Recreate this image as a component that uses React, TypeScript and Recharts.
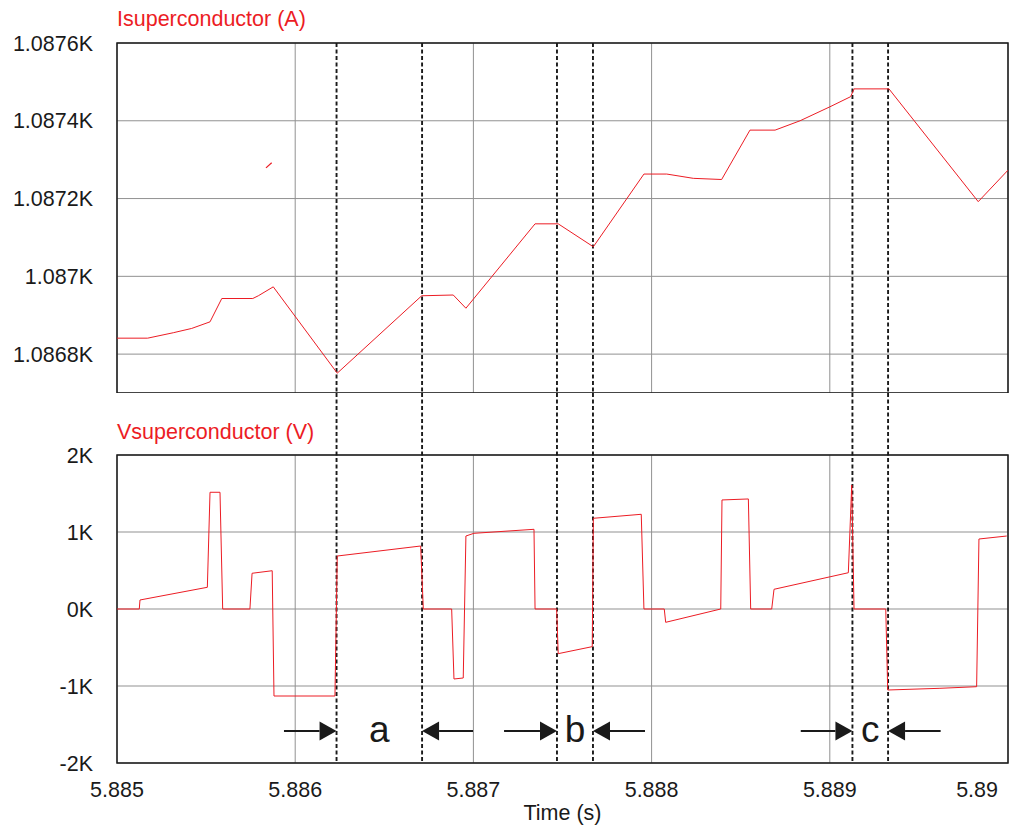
import React from 'react';
import {
  LineChart,
  Line,
  XAxis,
  YAxis,
  CartesianGrid,
  ReferenceLine,
  ReferenceArea,
  ReferenceDot,
} from 'recharts';

const RED = '#ec1c24';
const INK = '#1a1a1a';
const FONT = '"Liberation Sans", Arial, Helvetica, sans-serif';

// shared time axis (s)
const timeTicks = [5.885, 5.886, 5.887, 5.888, 5.889, 5.89];
const timeTickLabels = ['5.885', '5.886', '5.887', '5.888', '5.889', '5.89'];

// superconductor current (A)
const currentTime = [
  5.885, 5.885172, 5.885316, 5.885419, 5.885522, 5.885588, 5.885762, 5.885793, 5.885877,
  5.886236, 5.88671, 5.886887, 5.886958, 5.887346, 5.887476, 5.887673, 5.887957, 5.888085,
  5.888234, 5.888393, 5.888552, 5.888693, 5.888833, 5.889001, 5.889117, 5.889136, 5.889332,
  5.889833, 5.89,
];
const currentAmps = [
  1086.841, 1086.841, 1086.855, 1086.866, 1086.883, 1086.943, 1086.943, 1086.95, 1086.973,
  1086.751, 1086.95, 1086.952, 1086.918, 1087.135, 1087.135, 1087.076, 1087.263, 1087.263,
  1087.252, 1087.249, 1087.376, 1087.376, 1087.4, 1087.436, 1087.462, 1087.482, 1087.482,
  1087.192, 1087.273,
];
// short stray trace segment
const blipTime = [5.885836, 5.885868];
const blipAmps = [1087.279, 1087.292];

const currentTicks = [1086.8, 1087.0, 1087.2, 1087.4, 1087.6];
const currentTickLabels = ['1.0868K', '1.087K', '1.0872K', '1.0874K', '1.0876K'];

// superconductor voltage (V)
const voltageTime = [
  5.885, 5.885125, 5.885129, 5.885507, 5.885522, 5.885578, 5.885593, 5.885746, 5.885758,
  5.885871, 5.885881, 5.886223, 5.886236, 5.886704, 5.886719, 5.886878, 5.886891, 5.886943,
  5.886958, 5.887003, 5.88734, 5.887346, 5.887467, 5.887476, 5.887667, 5.887673, 5.887942,
  5.887957, 5.888071, 5.888079, 5.888388, 5.888395, 5.888543, 5.888556, 5.888674, 5.888687,
  5.889104, 5.889123, 5.889136, 5.889314, 5.889325, 5.889618, 5.889824, 5.889837, 5.889993,
];
const voltageVolts = [
  0, 0, 117, 282, 1516, 1516, 0, 0, 464,
  497, -1130, -1130, 688, 818, 0, 0, -909, -896,
  948, 983, 1035, 0, 0, -580, -489, 1178, 1230,
  0, 0, -173, 0, 1416, 1429, 0, 0, 256,
  471, 1610, 0, 0, -1052, -1030, -1009, 909, 948,
];

const voltageTicks = [-2000, -1000, 0, 1000, 2000];
const voltageTickLabels = ['-2K', '-1K', '0K', '1K', '2K'];

// dotted cursors and the a/b/c interval markers
const cursorTimes = [5.886232, 5.886712, 5.887469, 5.887671, 5.889127, 5.889327];
const intervalLabels = ['a', 'b', 'c'];
const intervalStart = [5.886232, 5.887469, 5.889127];
const intervalEnd = [5.886712, 5.887671, 5.889327];
const arrowTailLeft = [5.885937, 5.887172, 5.888837];
const arrowTailRight = [5.886998, 5.887963, 5.889622];
const ARROW_V = -1585;

const currentData = currentTime.map((t, i) => ({ t, v: currentAmps[i] }));
const blipData = blipTime.map((t, i) => ({ t, v: blipAmps[i] }));
const voltageData = voltageTime.map((t, i) => ({ t, v: voltageVolts[i] }));

const WIDTH = 1013;
const TOP_H = 393;
const BOTTOM_H = 433;
const BOTTOM_GAP = 62;
const I_DOMAIN = [1086.7, 1087.6];
const V_DOMAIN = [-2000, 2000];
const T_DOMAIN = [5.885, 5.89];

const labelFor = (ticks: number[], labels: string[]) => (v: number) => {
  const i = ticks.findIndex((x) => Math.abs(x - v) < 1e-6);
  return i >= 0 ? labels[i] : '';
};

const tickStyle = { fontSize: 21.5, fill: INK, fontFamily: FONT };

const cursorShape = (extendUp: number) => (props: any) => {
  const { x1, y1, x2, y2 } = props;
  const top = Math.min(y1, y2) - extendUp;
  const bottom = Math.max(y1, y2);
  return (
    <line
      x1={x1}
      x2={x2}
      y1={top}
      y2={bottom}
      stroke={INK}
      strokeWidth={1.9}
      strokeDasharray="4 2.5"
    />
  );
};

const ArrowShape = (props: any) => {
  const { x1, y1, x2, y2 } = props;
  const dir = x2 > x1 ? 1 : -1;
  const base = x2 - dir * 17;
  return (
    <g>
      <line x1={x1} y1={y1} x2={base} y2={y2} stroke={INK} strokeWidth={2} />
      <polygon points={`${x2},${y2} ${base},${y2 - 9.5} ${base},${y2 + 9.5}`} fill={INK} />
    </g>
  );
};

const TimeTick = (props: any) => {
  const { x, y, payload, index } = props;
  const last = index === timeTicks.length - 1;
  return (
    <text
      x={last ? x - 1 : x}
      y={y}
      dy={15}
      textAnchor={last ? 'end' : 'middle'}
      fontSize={21.5}
      fontFamily={FONT}
      fill={INK}
    >
      {labelFor(timeTicks, timeTickLabels)(payload.value)}
    </text>
  );
};

const titleStyle: React.CSSProperties = {
  position: 'absolute',
  left: 117,
  fontSize: 21.5,
  lineHeight: '21px',
  fontFamily: FONT,
  color: RED,
  whiteSpace: 'nowrap',
};

export default function App() {
  return (
    <div
      style={{
        position: 'absolute',
        left: 0,
        top: 0,
        width: WIDTH,
        height: 826,
        overflow: 'hidden',
        background: '#fff',
      }}
    >
      <div style={{ ...titleStyle, top: 9 }}>Isuperconductor (A)</div>
      <div style={{ ...titleStyle, top: 422 }}>Vsuperconductor (V)</div>

      <div style={{ position: 'absolute', left: 0, top: 0 }}>
        <LineChart width={WIDTH} height={TOP_H} margin={{ top: 43, right: 5, bottom: 0, left: 0 }}>
          <CartesianGrid stroke="#919191" strokeWidth={1} />
          <XAxis
            type="number"
            dataKey="t"
            domain={T_DOMAIN}
            ticks={timeTicks}
            allowDataOverflow
            hide
          />
          <YAxis
            type="number"
            domain={I_DOMAIN}
            ticks={currentTicks}
            allowDataOverflow
            width={117}
            axisLine={false}
            tickLine={false}
            tickSize={0}
            tickMargin={24}
            tick={tickStyle}
            tickFormatter={labelFor(currentTicks, currentTickLabels)}
          />
          <ReferenceArea
            x1={T_DOMAIN[0]}
            x2={T_DOMAIN[1]}
            y1={I_DOMAIN[0]}
            y2={I_DOMAIN[1]}
            fill="none"
            stroke={INK}
            strokeWidth={1.5}
          />
          {cursorTimes.map((t) => (
            <ReferenceLine key={t} x={t} shape={cursorShape(0)} />
          ))}
          <Line
            data={currentData}
            dataKey="v"
            type="linear"
            stroke={RED}
            strokeWidth={1}
            dot={false}
            isAnimationActive={false}
          />
          <Line
            data={blipData}
            dataKey="v"
            type="linear"
            stroke={RED}
            strokeWidth={1.2}
            dot={false}
            isAnimationActive={false}
          />
        </LineChart>
      </div>

      <div style={{ position: 'absolute', left: 0, top: TOP_H }}>
        <LineChart
          width={WIDTH}
          height={BOTTOM_H}
          margin={{ top: BOTTOM_GAP, right: 5, bottom: 3, left: 0 }}
        >
          <CartesianGrid stroke="#919191" strokeWidth={1} />
          <XAxis
            type="number"
            dataKey="t"
            domain={T_DOMAIN}
            ticks={timeTicks}
            allowDataOverflow
            height={60}
            axisLine={false}
            tickLine={false}
            tickSize={0}
            tickMargin={19}
            tick={<TimeTick />}
            label={{
              value: 'Time (s)',
              position: 'insideBottom',
              offset: 3,
              fontSize: 21.5,
              fontFamily: FONT,
              fill: INK,
            }}
          />
          <YAxis
            type="number"
            domain={V_DOMAIN}
            ticks={voltageTicks}
            allowDataOverflow
            width={117}
            axisLine={false}
            tickLine={false}
            tickSize={0}
            tickMargin={24}
            tick={tickStyle}
            tickFormatter={labelFor(voltageTicks, voltageTickLabels)}
          />
          <ReferenceArea
            x1={T_DOMAIN[0]}
            x2={T_DOMAIN[1]}
            y1={V_DOMAIN[0]}
            y2={V_DOMAIN[1]}
            fill="none"
            stroke={INK}
            strokeWidth={1.5}
          />
          {cursorTimes.map((t) => (
            <ReferenceLine key={t} x={t} shape={cursorShape(BOTTOM_GAP)} />
          ))}
          {intervalLabels.map((name, i) => (
            <ReferenceLine
              key={`l-${name}`}
              segment={[
                { x: arrowTailLeft[i], y: ARROW_V },
                { x: intervalStart[i], y: ARROW_V },
              ]}
              shape={ArrowShape}
            />
          ))}
          {intervalLabels.map((name, i) => (
            <ReferenceLine
              key={`r-${name}`}
              segment={[
                { x: arrowTailRight[i], y: ARROW_V },
                { x: intervalEnd[i], y: ARROW_V },
              ]}
              shape={ArrowShape}
            />
          ))}
          {intervalLabels.map((name, i) => (
            <ReferenceDot
              key={`t-${name}`}
              x={(intervalStart[i] + intervalEnd[i]) / 2}
              y={ARROW_V}
              r={0}
              shape={(p: any) => (
                <text
                  x={p.cx}
                  y={p.cy + 11}
                  textAnchor="middle"
                  fontSize={37}
                  fontFamily={FONT}
                  fill={INK}
                >
                  {name}
                </text>
              )}
            />
          ))}
          <Line
            data={voltageData}
            dataKey="v"
            type="linear"
            stroke={RED}
            strokeWidth={1}
            dot={false}
            isAnimationActive={false}
          />
        </LineChart>
      </div>
    </div>
  );
}
